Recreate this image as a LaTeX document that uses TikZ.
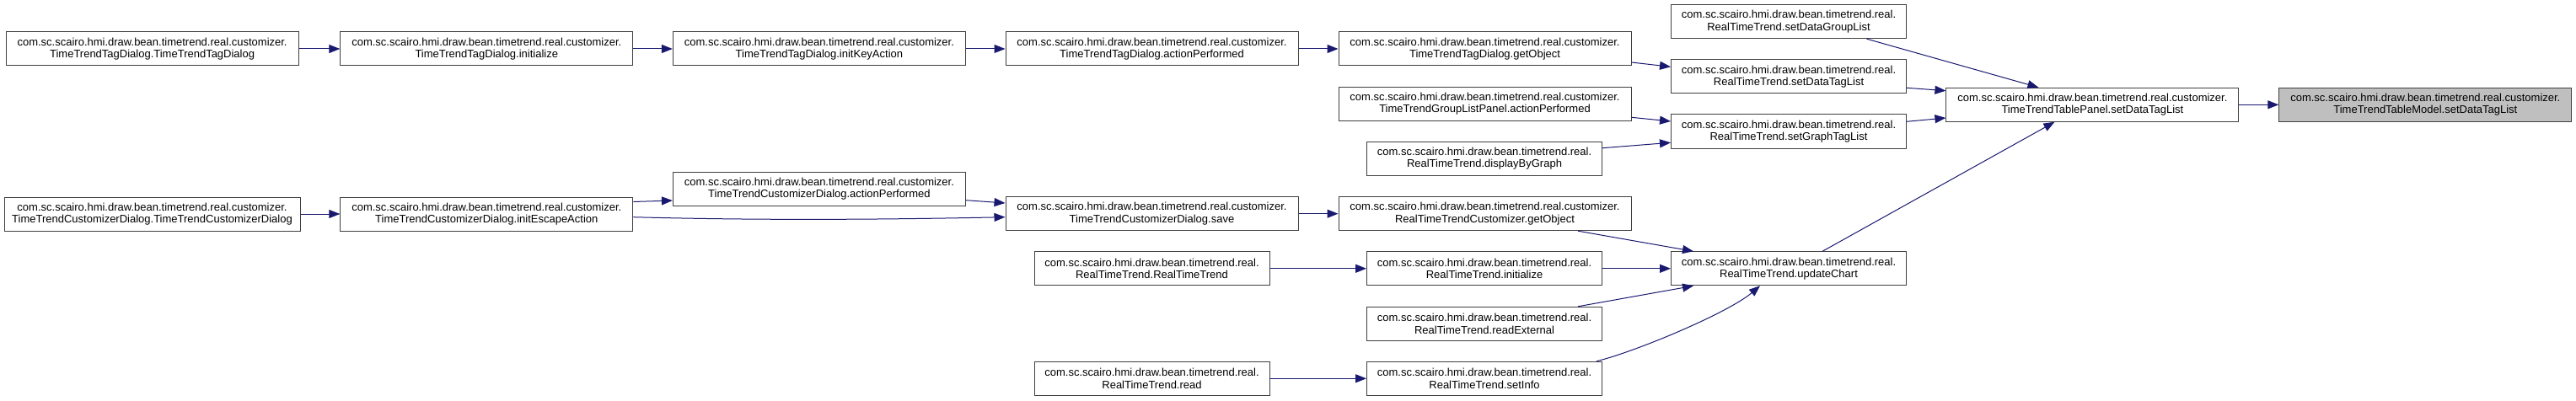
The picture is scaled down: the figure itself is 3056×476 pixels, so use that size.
\documentclass[tikz,border=0pt]{standalone}
\usepackage{fontspec}
\setmainfont{Liberation Sans}
\usetikzlibrary{arrows.meta,calc}
\definecolor{edgecol}{HTML}{191970}
\definecolor{boxline}{HTML}{404040}
\definecolor{hilite}{HTML}{BFBFBF}
\begin{document}
\begin{tikzpicture}[x=1pt,y=-1pt,
 fn/.style={draw=boxline, line width=1pt, fill=white, minimum height=40pt, inner sep=0pt, align=center, font=\fontsize{13}{14.3}\selectfont},
 wide/.style={fn, minimum width=347pt},
 narrow/.style={fn, minimum width=279pt},
 cur/.style={wide, fill=hilite},
 call/.style={draw=edgecol, line width=1pt, -{Triangle[length=13pt,width=10pt]}}]
\useasboundingbox (0,0) rectangle (3056,476);
% top chain
\node[wide] (tdc) at (180.6,58) {com.sc.scairo.hmi.draw.bean.timetrend.real.customizer.\\TimeTrendTagDialog.TimeTrendTagDialog};
\node[wide] (tdi) at (577.3,58) {com.sc.scairo.hmi.draw.bean.timetrend.real.customizer.\\TimeTrendTagDialog.initialize};
\node[wide] (tdk) at (971.9,58) {com.sc.scairo.hmi.draw.bean.timetrend.real.customizer.\\TimeTrendTagDialog.initKeyAction};
\node[wide] (tda) at (1366.5,58) {com.sc.scairo.hmi.draw.bean.timetrend.real.customizer.\\TimeTrendTagDialog.actionPerformed};
\node[wide] (tdg) at (1761.5,58) {com.sc.scairo.hmi.draw.bean.timetrend.real.customizer.\\TimeTrendTagDialog.getObject};
\node[narrow] (dgl) at (2122,25.7) {com.sc.scairo.hmi.draw.bean.timetrend.real.\\RealTimeTrend.setDataGroupList};
\node[narrow] (dtl) at (2122,91) {com.sc.scairo.hmi.draw.bean.timetrend.real.\\RealTimeTrend.setDataTagList};
\node[wide] (glp) at (1761.5,123.3) {com.sc.scairo.hmi.draw.bean.timetrend.real.customizer.\\TimeTrendGroupListPanel.actionPerformed};
\node[narrow] (gtl) at (2122,156) {com.sc.scairo.hmi.draw.bean.timetrend.real.\\RealTimeTrend.setGraphTagList};
\node[narrow] (dbg) at (1761,188.3) {com.sc.scairo.hmi.draw.bean.timetrend.real.\\RealTimeTrend.displayByGraph};
\node[wide] (tp) at (2482.4,124.3) {com.sc.scairo.hmi.draw.bean.timetrend.real.customizer.\\TimeTrendTablePanel.setDataTagList};
\node[cur] (tm) at (2877.3,124.3) {com.sc.scairo.hmi.draw.bean.timetrend.real.customizer.\\TimeTrendTableModel.setDataTagList};
% lower part
\node[fn, minimum width=351pt] (cdc) at (180.5,254) {com.sc.scairo.hmi.draw.bean.timetrend.real.customizer.\\TimeTrendCustomizerDialog.TimeTrendCustomizerDialog};
\node[wide] (cde) at (577.3,254) {com.sc.scairo.hmi.draw.bean.timetrend.real.customizer.\\TimeTrendCustomizerDialog.initEscapeAction};
\node[wide] (cda) at (971.9,224.3) {com.sc.scairo.hmi.draw.bean.timetrend.real.customizer.\\TimeTrendCustomizerDialog.actionPerformed};
\node[wide] (cds) at (1366.5,253.7) {com.sc.scairo.hmi.draw.bean.timetrend.real.customizer.\\TimeTrendCustomizerDialog.save};
\node[wide] (rcg) at (1761.5,253.7) {com.sc.scairo.hmi.draw.bean.timetrend.real.customizer.\\RealTimeTrendCustomizer.getObject};
\node[narrow] (rtt) at (1366.5,318.8) {com.sc.scairo.hmi.draw.bean.timetrend.real.\\RealTimeTrend.RealTimeTrend};
\node[narrow] (rti) at (1761,318.8) {com.sc.scairo.hmi.draw.bean.timetrend.real.\\RealTimeTrend.initialize};
\node[narrow] (ruc) at (2122,318.8) {com.sc.scairo.hmi.draw.bean.timetrend.real.\\RealTimeTrend.updateChart};
\node[narrow] (rre) at (1761,384.3) {com.sc.scairo.hmi.draw.bean.timetrend.real.\\RealTimeTrend.readExternal};
\node[narrow] (rsi) at (1761,449.3) {com.sc.scairo.hmi.draw.bean.timetrend.real.\\RealTimeTrend.setInfo};
\node[narrow] (rrd) at (1366.5,449.3) {com.sc.scairo.hmi.draw.bean.timetrend.real.\\RealTimeTrend.read};
% edges
\draw[call] (tdc.east) -- (tdi.west);
\draw[call] (tdi.east) -- (tdk.west);
\draw[call] (tdk.east) -- (tda.west);
\draw[call] (tda.east) -- (tdg.west);
\draw[call] ($(tdg.east)+(0,16)$) -- ($(dtl.west)+(0,-11.7)$);
\draw[call] ($(dgl.south)+(92.6,0)$) -- ($(tp.north)+(-64,0)$);
\draw[call] ($(dtl.east)+(0,13.3)$) -- ($(tp.west)+(0,-16.6)$);
\draw[call] ($(gtl.east)+(0,-11.7)$) -- ($(tp.west)+(0,15.7)$);
\draw[call] ($(ruc.north)+(40,0)$) -- ($(tp.south)+(-45,0)$);
\draw[call] (tp.east) -- (tm.west);
\draw[call] ($(glp.east)+(0,16)$) -- ($(gtl.west)+(0,-12)$);
\draw[call] ($(dbg.east)+(0,-12.6)$) -- ($(gtl.west)+(0,13.3)$);
\draw[call] (cdc.east) -- (cde.west);
\draw[call] ($(cde.east)+(0,-14.5)$) -- ($(cda.west)+(0,13.7)$);
\draw[call] ($(cde.east)+(0,3.7)$) .. controls +(150,4) and +(-150,3) .. ($(cds.west)+(0,4)$);
\draw[call] ($(cda.east)+(0,13.4)$) -- ($(cds.west)+(0,-12.7)$);
\draw[call] (cds.east) -- (rcg.west);
\draw[call] ($(rcg.south)+(110.5,0)$) -- ($(ruc.north)+(-113,0)$);
\draw[call] (rtt.east) -- (rti.west);
\draw[call] (rti.east) -- (ruc.west);
\draw[call] ($(rre.north)+(111,0)$) -- ($(ruc.south)+(-113,0)$);
\draw[call] ($(rsi.north)+(133,0)$) .. controls +(48.5,-12.1) and +(-38,32) .. ($(ruc.south)+(-34,0)$);
\draw[call] (rrd.east) -- (rsi.west);
\end{tikzpicture}
\end{document}
